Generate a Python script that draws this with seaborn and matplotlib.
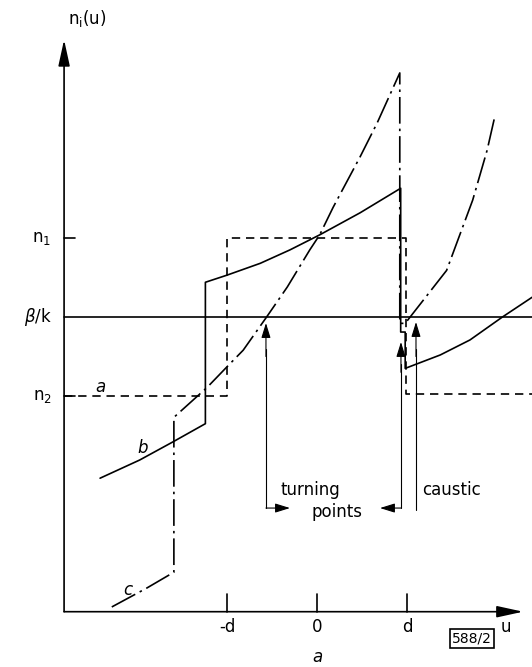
import seaborn as sns
import matplotlib.pyplot as plt

# u in units of d, index in arbitrary units (n2 = 0, beta/k = 1, n1 = 2)
n1, beta_k, n2 = 2.0, 1.0, 0.0
u_ticks = [-1.0, 0.0, 1.0]
u_tick_labels = ["-d", "0", "d"]

# curve a: step profile (dashed)
u_a = [-2.81, -1.0, -1.0, 0.99, 0.99, 2.39]
n_a = [0.0, 0.0, 2.0, 2.0, 0.03, 0.03]

# curve b: solid
u_b = [-2.41, -1.97, -1.60, -1.24, -1.24, -1.00, -0.63, -0.30, 0.03, 0.48, 0.93,
       0.93, 0.98, 0.98, 1.37, 1.70, 2.06, 2.39]
n_b = [-1.04, -0.81, -0.58, -0.35, 1.44, 1.53, 1.68, 1.85, 2.04, 2.32, 2.63,
       0.81, 0.81, 0.35, 0.52, 0.71, 1.00, 1.25]

# curve c: dash-dot
u_c = [-2.28, -1.89, -1.59, -1.59, -1.22, -1.00, -0.82, -0.56, -0.33, -0.08, 0.03,
       0.18, 0.48, 0.67, 0.92, 0.92, 0.98, 1.44, 1.73, 1.89, 1.98]
n_c = [-2.67, -2.43, -2.23, -0.27, 0.11, 0.37, 0.58, 1.00, 1.38, 1.85, 2.04,
       2.39, 3.03, 3.46, 4.09, 0.92, 0.92, 1.59, 2.48, 3.11, 3.56]

sns.set_style("white")
plt.rcParams['mathtext.default'] = 'regular'
plt.rcParams['font.family'] = ['DejaVu Sans']
plt.rcParams['text.color'] = 'black'

fig = plt.figure(figsize=(5.32, 6.67), dpi=100)
ax = fig.add_axes([0, 0, 1, 1])
ax.set_xlim(-3.522, 2.389)
ax.set_ylim(-3.43, 5.013)
ax.set_axis_off()

x0, y0 = -2.81, -2.73
lw = 1.2

sns.lineplot(x=[x0, 2.39], y=[beta_k, beta_k], color='k', lw=lw, ax=ax)
sns.lineplot(x=u_a, y=n_a, sort=False, estimator=None, color='k', lw=lw,
             linestyle=(0, (5, 3.5)), ax=ax)
sns.lineplot(x=u_b, y=n_b, sort=False, estimator=None, color='k', lw=lw, ax=ax)
sns.lineplot(x=u_c, y=n_c, sort=False, estimator=None, color='k', lw=lw,
             linestyle=(0, (16, 3, 1.5, 3)), ax=ax)

# axes with arrows
axis_arrow = dict(arrowstyle='-|>,head_length=1.6,head_width=0.35', color='k',
                  lw=lw, mutation_scale=10, shrinkA=0, shrinkB=0)
ax.annotate('', xy=(x0, 4.51), xytext=(x0, y0), arrowprops=axis_arrow)
ax.annotate('', xy=(2.29, y0), xytext=(x0, y0), arrowprops=axis_arrow)

# ticks
for u in u_ticks:
    ax.plot([u, u], [y0, y0 + 0.22], color='k', lw=lw)
for n in [n1, n2]:
    ax.plot([x0, x0 + 0.12], [n, n], color='k', lw=lw)

fs = 12
for u, lab in zip(u_ticks, u_tick_labels):
    ax.text(u, -2.92, lab, ha='center', va='center', fontsize=fs)
ax.text(2.10, -2.92, "u", ha='center', va='center', fontsize=fs)
ax.text(-2.95, n1, "n$_1$", ha='right', va='center', fontsize=fs)
ax.text(-2.95, n2, "n$_2$", ha='right', va='center', fontsize=fs)
ax.text(-2.95, beta_k, r"$\mathit{\beta}$/k", ha='right', va='center', fontsize=fs)
ax.text(-2.55, 4.78, "n$_i$(u)", ha='center', va='center', fontsize=fs)

ax.text(-2.41, 0.12, "a", style='italic', ha='center', va='center', fontsize=fs)
ax.text(-1.94, -0.66, "b", style='italic', ha='center', va='center', fontsize=fs)
ax.text(-2.10, -2.46, "c", style='italic', ha='center', va='center', fontsize=fs)
ax.text(0.01, -3.30, "a", style='italic', ha='center', va='center', fontsize=fs)

# turning points / caustic annotations
small = dict(arrowstyle='-|>,head_length=0.9,head_width=0.28', color='k',
             lw=0.8, mutation_scale=10, shrinkA=0, shrinkB=0)
ax.plot([-0.567, -0.567], [-1.418, 0.6], color='k', lw=0.8)
ax.annotate('', xy=(-0.567, 0.924), xytext=(-0.567, 0.5), arrowprops=small)
ax.annotate('', xy=(-0.30, -1.418), xytext=(-0.567, -1.418), arrowprops=small)
ax.plot([0.933, 0.933], [-1.418, 0.4], color='k', lw=0.8)
ax.annotate('', xy=(0.933, 0.684), xytext=(0.933, 0.3), arrowprops=small)
ax.annotate('', xy=(0.70, -1.418), xytext=(0.933, -1.418), arrowprops=small)
ax.plot([1.10, 1.10], [-1.443, 0.6], color='k', lw=0.8)
ax.annotate('', xy=(1.10, 0.937), xytext=(1.10, 0.5), arrowprops=small)

ax.text(-0.41, -1.19, "turning", ha='left', va='center', fontsize=fs)
ax.text(-0.056, -1.47, "points", ha='left', va='center', fontsize=fs)
ax.text(1.17, -1.19, "caustic", ha='left', va='center', fontsize=fs)

ax.text(1.72, -3.07, "588/2", ha='center', va='center', fontsize=10,
        bbox=dict(boxstyle='square,pad=0.15', fc='white', ec='k', lw=1.2))

plt.savefig('out.png', dpi=100)
